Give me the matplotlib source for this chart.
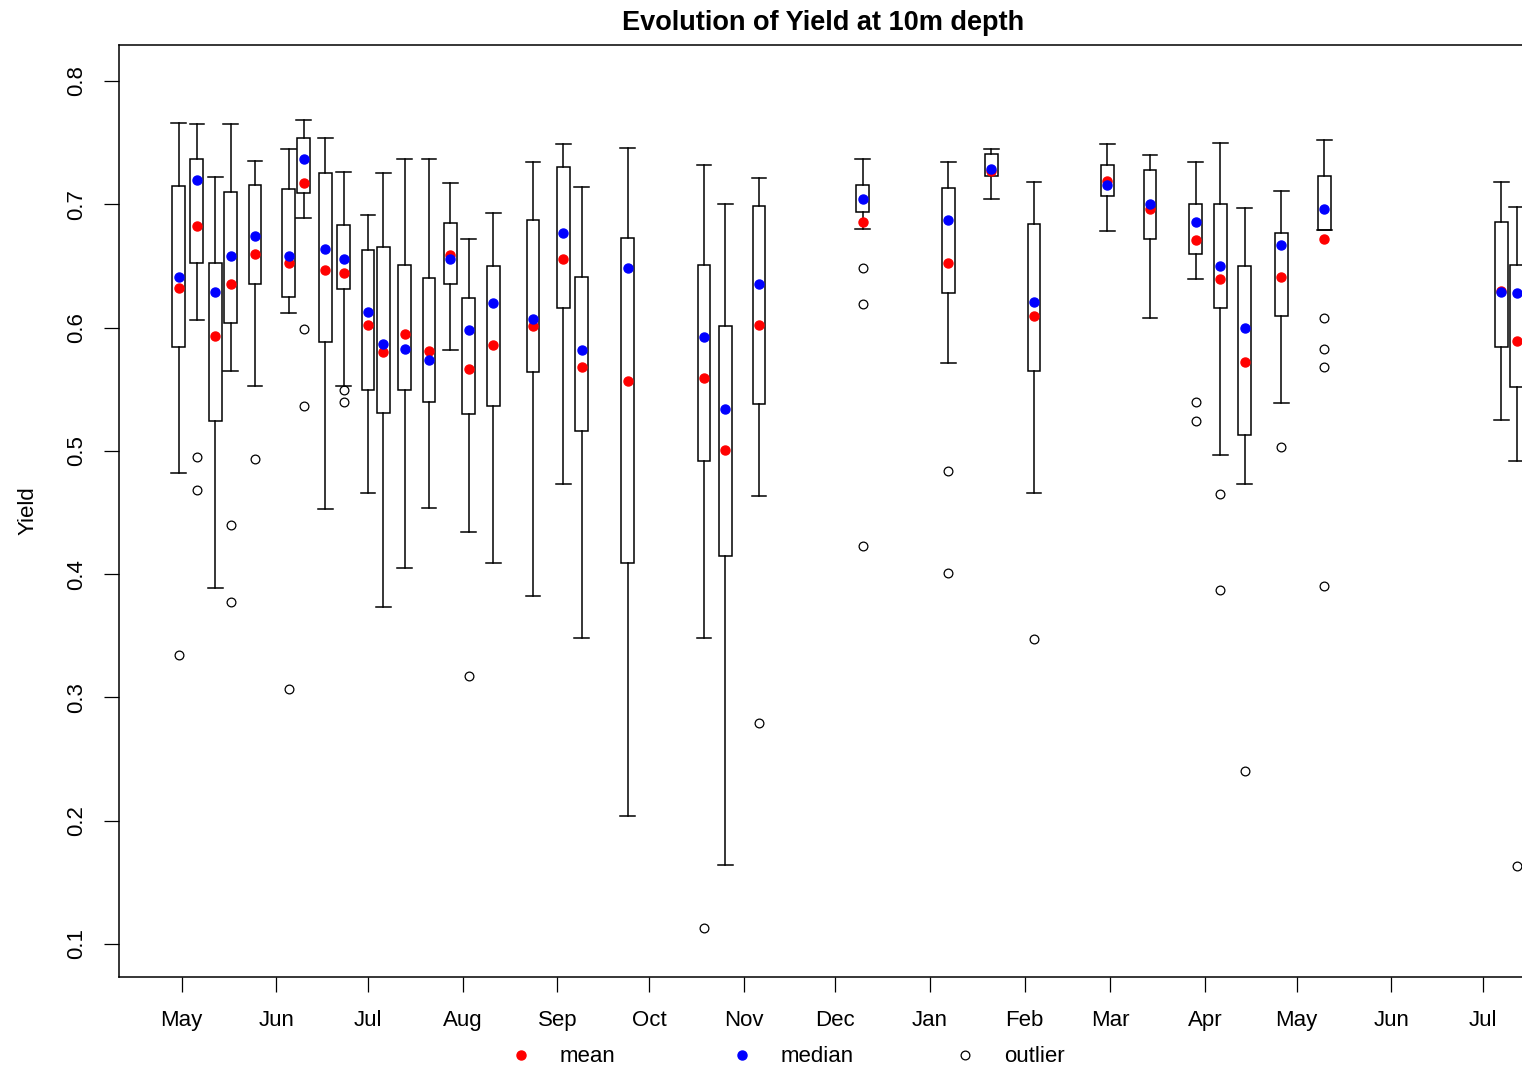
import datetime as dt

import matplotlib
matplotlib.use("Agg")
import matplotlib.pyplot as plt
import matplotlib.dates as mdates
from matplotlib.lines import Line2D

plt.rcParams['font.family'] = ['Liberation Sans', 'DejaVu Sans']

# one box per sampling date (10 m depth)
sample_dates = [
    "2016-04-30", "2016-05-06", "2016-05-12", "2016-05-17", "2016-05-25",
    "2016-06-05", "2016-06-10", "2016-06-17", "2016-06-23", "2016-07-01",
    "2016-07-06", "2016-07-13", "2016-07-21", "2016-07-28", "2016-08-03",
    "2016-08-11", "2016-08-24", "2016-09-03", "2016-09-09", "2016-09-24",
    "2016-10-19", "2016-10-26", "2016-11-06", "2016-12-10", "2017-01-07",
    "2017-01-21", "2017-02-04", "2017-02-28", "2017-03-14", "2017-03-29",
    "2017-04-06", "2017-04-14", "2017-04-26", "2017-05-10", "2017-07-07",
    "2017-07-12",
]
whisker_hi = [0.766, 0.765, 0.722, 0.765, 0.735, 0.745, 0.768, 0.754, 0.726, 0.691,
              0.725, 0.737, 0.737, 0.717, 0.672, 0.693, 0.734, 0.749, 0.714, 0.746,
              0.732, 0.700, 0.721, 0.737, 0.734, 0.745, 0.718, 0.749, 0.740, 0.734,
              0.750, 0.697, 0.711, 0.752, 0.718, 0.698]
upper_q = [0.715, 0.737, 0.652, 0.710, 0.716, 0.712, 0.754, 0.725, 0.683, 0.663,
           0.665, 0.651, 0.640, 0.685, 0.624, 0.650, 0.687, 0.730, 0.641, 0.673,
           0.651, 0.601, 0.699, 0.716, 0.713, 0.741, 0.684, 0.732, 0.728, 0.700,
           0.700, 0.650, 0.677, 0.723, 0.686, 0.651]
lower_q = [0.584, 0.652, 0.524, 0.604, 0.635, 0.625, 0.709, 0.588, 0.631, 0.549,
           0.531, 0.549, 0.540, 0.635, 0.530, 0.536, 0.564, 0.616, 0.516, 0.409,
           0.492, 0.415, 0.538, 0.694, 0.628, 0.723, 0.565, 0.707, 0.672, 0.660,
           0.616, 0.513, 0.609, 0.679, 0.584, 0.552]
whisker_lo = [0.482, 0.606, 0.389, 0.565, 0.553, 0.612, 0.689, 0.453, 0.553, 0.466,
              0.373, 0.405, 0.454, 0.582, 0.434, 0.409, 0.382, 0.473, 0.348, 0.204,
              0.348, 0.164, 0.463, 0.680, 0.571, 0.704, 0.466, 0.678, 0.608, 0.639,
              0.497, 0.473, 0.539, 0.679, 0.525, 0.492]
medians = [0.641, 0.720, 0.629, 0.658, 0.674, 0.658, 0.737, 0.664, 0.656, 0.613,
           0.587, 0.583, 0.574, 0.656, 0.598, 0.620, 0.607, 0.677, 0.582, 0.648,
           0.592, 0.534, 0.635, 0.704, 0.687, 0.729, 0.621, 0.716, 0.700, 0.686,
           0.650, 0.600, 0.667, 0.696, 0.629, 0.628]
means = [0.632, 0.682, 0.593, 0.635, 0.660, 0.652, 0.717, 0.647, 0.644, 0.602,
         0.580, 0.595, 0.581, 0.659, 0.566, 0.586, 0.601, 0.656, 0.568, 0.557,
         0.559, 0.501, 0.602, 0.686, 0.652, 0.727, 0.609, 0.719, 0.696, 0.671,
         0.639, 0.572, 0.641, 0.672, 0.630, 0.589]
outliers = [
    [0.334], [0.495, 0.468], [], [0.440, 0.377], [0.493],
    [0.307], [0.599, 0.536], [], [0.549, 0.540], [],
    [], [], [], [], [0.317],
    [], [], [], [], [],
    [0.113], [], [0.279], [0.648, 0.619, 0.423], [0.484, 0.401],
    [], [0.347], [], [], [0.540, 0.524],
    [0.465, 0.387], [0.240], [0.503], [0.608, 0.583, 0.568, 0.390], [],
    [0.163],
]

W, H = 1522, 1070
fig = plt.figure(figsize=(W / 100, H / 100), dpi=100)
# plot region runs slightly past the right edge of the page
ax = fig.add_axes([119 / W, 93 / H, 1408 / W, 932 / H])

x = [mdates.date2num(dt.date.fromisoformat(d)) for d in sample_dates]

stats = []
for i in range(len(x)):
    stats.append(dict(med=medians[i], q1=lower_q[i], q3=upper_q[i],
                      whislo=whisker_lo[i], whishi=whisker_hi[i],
                      fliers=outliers[i]))

box_w = 4.2
ax.bxp(stats, positions=x, widths=box_w, capwidths=box_w * 1.15,
       patch_artist=True, manage_ticks=False,
       boxprops=dict(facecolor='white', edgecolor='black', linewidth=1.1),
       whiskerprops=dict(color='black', linewidth=1.1),
       capprops=dict(color='black', linewidth=1.1),
       medianprops=dict(linewidth=0),
       flierprops=dict(marker='o', markersize=6.3, markerfacecolor='none',
                       markeredgecolor='black', markeredgewidth=0.9))

ax.plot(x, means, 'o', color='red', markersize=6.5, zorder=4)
ax.plot(x, medians, 'o', color='blue', markersize=6.5, zorder=5)

start = mdates.date2num(dt.date(2016, 5, 1))
ax.set_xlim(start - 20.5, start + 440.4)
ax.set_ylim(0.0732, 0.8292)

ax.xaxis.set_major_locator(mdates.MonthLocator())
ax.xaxis.set_major_formatter(mdates.DateFormatter('%b'))
ax.set_yticks([0.1, 0.2, 0.3, 0.4, 0.5, 0.6, 0.7, 0.8])
ax.set_yticklabels(['0.1', '0.2', '0.3', '0.4', '0.5', '0.6', '0.7', '0.8'],
                   rotation=90, va='center')
ax.tick_params(axis='both', length=11, width=0.9, labelsize=16,
               colors='black')
ax.tick_params(axis='x', pad=13)
ax.tick_params(axis='y', pad=12)

for side in ['top', 'bottom', 'left', 'right']:
    ax.spines[side].set_linewidth(1.1)
    ax.spines[side].set_color('black')

ax.set_ylabel('Yield', fontsize=16, labelpad=20)
ax.set_title('Evolution of Yield at 10m depth', fontsize=19.5,
             fontweight='bold', pad=11)

# legend entries below the month labels
handles = [
    Line2D([], [], marker='o', linestyle='none', color='red', markersize=6.5),
    Line2D([], [], marker='o', linestyle='none', color='blue', markersize=6.5),
    Line2D([], [], marker='o', linestyle='none', markerfacecolor='none',
           markeredgecolor='black', markeredgewidth=0.9, markersize=6.3),
]
labels = ['mean', 'median', 'outlier']
legend_x = [510, 731, 954]
for lx, h, lab in zip(legend_x, handles, labels):
    fig.legend(handles=[h], labels=[lab], loc='center left',
               bbox_to_anchor=(lx / W, 1 - 1057 / H), frameon=False,
               fontsize=16, handlelength=1.0, handletextpad=1.25,
               borderpad=0, borderaxespad=0)

fig.savefig('out.png', dpi=100)
